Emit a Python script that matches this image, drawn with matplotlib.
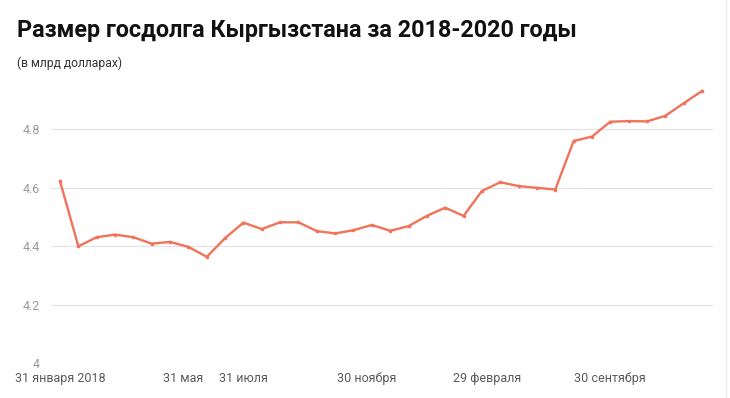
import matplotlib
matplotlib.use("Agg")
import matplotlib.pyplot as plt
from matplotlib.lines import Line2D

plt.rcParams['font.family'] = ['Roboto', 'DejaVu Sans']

# Monthly values, Jan 2018 .. Dec 2020 (bn USD)
values = [4.623, 4.400, 4.431, 4.440, 4.431, 4.409, 4.415, 4.398, 4.364, 4.428,
          4.481, 4.459, 4.482, 4.482, 4.452, 4.444, 4.455, 4.473, 4.453, 4.469,
          4.504, 4.532, 4.504, 4.589, 4.619, 4.606, 4.600, 4.594, 4.760, 4.775,
          4.826, 4.828, 4.827, 4.846, 4.889, 4.931]
x_tick_labels = ["31 января 2018", "31 мая", "31 июля", "30 ноября", "29 февраля", "30 сентября"]
x_tick_index = [0, 6.7, 10, 16.7, 23.3, 30]
y_ticks = [4.0, 4.2, 4.4, 4.6, 4.8]
y_tick_labels = ["4", "4.2", "4.4", "4.6", "4.8"]

title = "Размер госдолга Кыргызстана за 2018-2020 годы"
subtitle = "(в млрд долларах)"

W, H = 730, 398
fig = plt.figure(figsize=(W / 100, H / 100), dpi=100)
fig.patch.set_facecolor("white")

left, right = 51 / W, 713 / W
bottom = (H - 363.3) / H
height = 292.5 / H
ax = fig.add_axes([left, bottom, right - left, height])

xs = list(range(len(values)))
ax.plot(xs, values, color="#f0735a", lw=1.7, marker="o", markersize=1.6,
        solid_joinstyle="round", zorder=3)

ax.set_xlim(-9 / 18.343, len(values) - 1 + 11 / 18.343)
ax.set_ylim(4.0, 5.0)

ax.set_yticks(y_ticks)
ax.set_yticklabels(y_tick_labels)
ax.set_xticks(x_tick_index)
ax.set_xticklabels(x_tick_labels)

ax.tick_params(axis="y", length=0, pad=8, labelsize=9, labelcolor="#9a9a9a")
ax.tick_params(axis="x", length=0, pad=6, labelsize=9, labelcolor="#5a5a5a")

ax.grid(axis="y", color="#e3e3e3", lw=0.9)
ax.grid(axis="x", visible=False)
ax.set_axisbelow(True)
for s in ax.spines.values():
    s.set_visible(False)

fig.text(17 / W, 1 - 31 / H, title, fontsize=16.8, fontweight="bold",
         color="#111111", va="center", ha="left")
fig.text(17 / W, 1 - 63 / H, subtitle, fontsize=8.7, color="#333333",
         va="center", ha="left")

# faint right border
fig.add_artist(Line2D([726 / W, 726 / W], [0, 1], color="#ececec", lw=1,
                      transform=fig.transFigure))

fig.savefig("out.png", dpi=100, facecolor="white")
